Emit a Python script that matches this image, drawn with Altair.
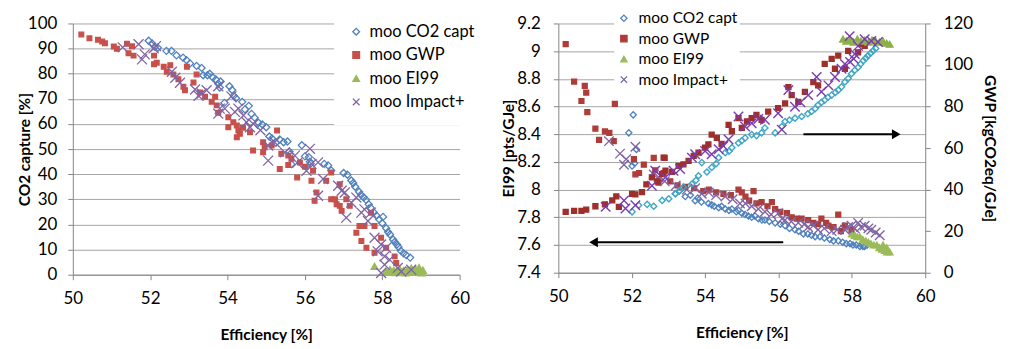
import altair as alt
import pandas as pd

SERIES = ["moo CO2 capt", "moo GWP", "moo EI99", "moo Impact+"]
X_PATH = "M-1,-1L1,1M-1,1L1,-1"
SHAPES = ["diamond", "square", "triangle-up", X_PATH]
X_TICKS = [50, 52, 54, 56, 58, 60]
CAPT_TICKS = [0, 10, 20, 30, 40, 50, 60, 70, 80, 90, 100]
EI_TICKS = [7.4, 7.6, 7.8, 8.0, 8.2, 8.4, 8.6, 8.8, 9.0, 9.2]
GWP_TICKS = [0, 20, 40, 60, 80, 100, 120]

# ---------- Left panel: (Efficiency [%], CO2 capture [%]) ----------
LEFT_CO2 = [(51.96,93.1),(52.05,92.0),(52.12,90.7),(52.20,90.3),(52.42,89.1),(52.55,89.1),(52.68,87.3),(52.85,86.4),(52.94,85.4),(53.03,84.1),(53.20,83.1),(53.33,82.3),(53.37,79.4),(53.48,79.4),(53.54,80.0),(53.62,78.5),(53.70,77.7),(53.76,76.0),(53.82,76.9),(53.80,74.5),(53.92,68.4),(54.05,75.0),(54.12,73.5),(54.16,71.2),(54.22,70.2),(54.38,68.8),(54.45,65.8),(54.55,67.2),(54.62,64.0),(54.70,62.5),(54.80,60.5),(54.90,59.8),(55.00,58.7),(55.08,55.0),(55.15,54.2),(55.25,52.5),(55.35,53.8),(55.45,52.7),(55.55,53.0),(55.60,49.0),(55.62,48.0),(55.65,44.0),(55.92,51.5),(56.00,47.1),(56.10,46.8),(56.13,45.0),(56.15,44.2),(56.50,44.1),(56.60,43.5),(56.68,41.5),(57.00,40.5),(57.10,39.8),(57.20,37.5),(57.25,36.5),(57.30,35.0),(57.40,33.0),(57.45,31.8),(57.52,30.8),(57.58,29.8),(57.65,28.0),(57.70,26.6),(57.78,24.8),(57.85,23.5),(57.92,22.0),(58.00,20.5),(58.02,23.0),(58.10,18.5),(58.15,17.0),(58.20,16.0),(58.28,14.0),(58.32,13.0),(58.38,12.0),(58.42,11.0),(58.48,9.5),(58.55,8.5),(58.62,7.8),(58.72,6.8)]
LEFT_GWP = [(50.22,95.6),(50.43,94.1),(50.65,93.5),(50.76,92.8),(50.83,92.1),(51.06,90.8),(51.14,89.9),(51.40,91.9),(51.53,90.9),(51.44,88.1),(51.57,87.2),(52.10,87.2),(52.10,83.8),(52.17,84.4),(52.35,82.8),(52.52,83.4),(52.43,80.8),(52.60,79.7),(52.73,77.8),(52.86,74.8),(52.90,73.4),(52.95,82.8),(53.20,79.7),(53.12,76.5),(53.29,72.5),(53.42,70.8),(53.59,68.8),(53.72,67.4),(53.68,70.8),(53.76,64.5),(54.02,62.7),(54.02,58.7),(54.15,60.7),(54.24,59.4),(54.28,57.4),(54.24,54.7),(54.32,56.1),(54.40,58.5),(54.58,56.7),(54.66,49.4),(54.92,52.7),(54.92,48.7),(55.28,57.4),(54.96,50.7),(55.14,51.4),(55.35,42.1),(55.39,48.1),(55.57,47.4),(55.65,46.1),(55.57,43.7),(55.80,38.7),(55.87,44.7),(56.00,43.0),(56.17,37.4),(56.21,41.4),(56.30,32.7),(56.25,29.4),(56.55,37.4),(56.68,40.7),(56.68,30.0),(56.78,30.0),(56.82,28.0),(56.90,36.0),(56.90,27.4),(56.95,25.4),(57.07,30.0),(57.16,27.4),(57.33,16.7),(57.41,19.4),(57.46,13.4),(57.54,19.4),(57.59,10.7),(57.80,8.7),(57.80,19.4),(57.71,24.7),(57.97,14.7),(58.10,10.7),(58.32,7.3),(58.36,4.7)]
LEFT_EI99 = [(57.80,3.3),(58.10,1.5),(58.15,1.0),(58.20,2.0),(58.25,1.2),(58.30,1.8),(58.35,0.9),(58.40,1.5),(58.45,2.2),(58.50,1.0),(58.55,1.6),(58.60,0.8),(58.65,2.0),(58.70,1.4),(58.75,2.6),(58.80,1.0),(58.85,2.4),(58.90,1.6),(58.95,2.8),(59.00,1.2),(59.05,1.8),(59.02,0.8)]
LEFT_IMP = [(51.29,90.5),(51.70,91.7),(51.79,85.7),(51.86,87.7),(52.09,90.1),(52.15,91.0),(52.56,80.8),(52.65,78.4),(52.77,76.4),(53.16,73.7),(53.25,71.2),(53.33,72.1),(53.46,73.4),(53.76,75.0),(53.76,64.1),(53.80,66.1),(53.93,66.1),(54.10,71.0),(54.19,64.8),(54.28,66.1),(54.41,63.4),(54.49,60.7),(54.58,58.7),(54.66,60.1),(54.85,57.5),(55.05,51.4),(55.22,52.7),(55.05,45.4),(55.48,48.7),(55.74,47.4),(55.80,44.5),(56.04,41.4),(56.13,50.1),(56.17,44.1),(56.34,44.7),(56.47,38.1),(56.34,31.4),(56.86,35.4),(56.95,33.4),(57.03,32.7),(57.07,22.7),(57.20,28.7),(57.33,30.7),(57.46,24.7),(57.54,26.0),(57.63,21.4),(57.71,24.7),(57.80,14.7),(57.88,9.3),(57.97,12.0),(58.06,7.3),(58.06,4.0),(57.97,0.7),(58.10,10.7),(58.19,6.0),(58.40,2.7),(58.49,1.3),(58.75,2.0)]

# ---------- Right panel, left axis: (Efficiency [%], EI99 [pts/GJe]) ----------
EI_CO2 = [(51.92,8.41),(52.04,8.54),(52.01,8.17),(52.13,8.29),(52.08,8.19),(53.19,7.97),(53.30,7.99),(53.46,7.95),(53.60,7.96),(53.73,7.92),(53.80,7.94),(53.90,7.91),(54.09,7.90),(54.18,7.89),(54.25,7.88),(54.37,7.87),(54.45,7.88),(54.55,7.86),(54.65,7.85),(54.73,7.86),(54.85,7.84),(54.91,7.85),(55.00,7.83),(55.09,7.82),(55.18,7.81),(55.27,7.80),(55.36,7.81),(55.45,7.79),(55.55,7.78),(55.63,7.78),(55.75,7.77),(55.91,7.76),(56.05,7.75),(56.18,7.74),(56.30,7.72),(56.45,7.71),(56.55,7.70),(56.68,7.68),(56.80,7.68),(56.90,7.67),(57.00,7.66),(57.13,7.66),(57.25,7.65),(57.40,7.64),(57.50,7.63),(57.63,7.63),(57.75,7.62),(57.85,7.61),(57.95,7.61),(58.03,7.60),(58.12,7.60),(58.22,7.59),(58.30,7.59),(58.35,7.59),(58.42,7.60)]
EI_GWP = [(50.20,9.05),(50.43,8.78),(50.72,8.75),(50.76,8.70),(50.63,8.64),(50.79,8.56),(51.01,8.44),(51.27,8.42),(51.39,8.41),(51.11,8.36),(51.51,8.35),(51.54,8.62),(52.06,8.22),(52.10,8.11),(52.20,8.12),(52.33,8.18),(52.60,8.23),(52.64,8.14),(52.73,8.05),(52.90,8.23),(52.87,8.12),(53.05,8.06),(53.25,8.03),(53.46,8.02),(53.70,8.01),(53.95,7.99),(54.10,8.00),(54.30,7.98),(54.50,7.97),(54.70,7.96),(54.91,8.00),(55.00,7.98),(55.10,7.95),(55.32,7.99),(55.20,7.92),(55.40,7.90),(55.54,7.91),(55.70,7.88),(55.82,7.91),(55.91,7.86),(56.05,7.84),(56.23,7.83),(56.36,7.80),(56.50,7.79),(56.63,7.79),(56.81,7.78),(56.95,7.76),(57.08,7.75),(57.17,7.79),(57.30,7.76),(57.36,7.74),(57.50,7.73),(57.63,7.82),(57.81,7.74),(57.99,7.71),(57.70,7.70)]
EI_EI99 = [(58.00,7.68),(58.08,7.67),(58.15,7.66),(58.22,7.66),(58.30,7.64),(58.38,7.63),(58.45,7.62),(58.52,7.61),(58.60,7.60),(58.68,7.60),(58.75,7.58),(58.82,7.57),(58.90,7.56),(58.96,7.55),(59.03,7.55),(58.85,7.60),(58.95,7.58)]
EI_IMP = [(51.38,8.35),(51.68,8.26),(51.79,8.18),(51.85,8.22),(52.10,8.31),(52.60,8.11),(52.73,8.09),(52.90,8.06),(53.20,8.03),(53.50,8.00),(53.73,8.01),(53.91,7.97),(54.10,7.98),(54.30,7.96),(54.55,7.95),(54.75,7.93),(54.95,7.90),(55.10,7.90),(55.27,7.88),(55.45,7.86),(55.63,7.84),(55.80,7.82),(55.99,7.83),(56.10,7.79),(56.18,7.78),(56.35,7.77),(56.54,7.76),(56.70,7.75),(56.81,7.73),(56.95,7.74),(57.08,7.71),(57.25,7.72),(57.45,7.70),(57.60,7.71),(57.81,7.71),(57.90,7.73),(57.99,7.74),(58.08,7.72),(58.17,7.76),(58.25,7.73),(58.35,7.74),(58.45,7.72),(58.53,7.71),(58.65,7.69),(58.76,7.67)]

# ---------- Right panel, right axis: (Efficiency [%], GWP [kgCO2eq/GJe]) ----------
G_CO2 = [(52.01,29.3),(52.19,32.5),(52.42,32.9),(52.60,32.0),(52.83,34.8),(53.01,35.6),(53.19,38.0),(53.30,39.5),(53.41,41.2),(53.64,42.7),(53.75,44.5),(53.82,46.7),(53.91,53.0),(54.05,48.5),(54.18,50.7),(54.30,52.5),(54.37,55.4),(54.55,57.8),(54.65,58.5),(54.73,60.2),(54.91,62.5),(55.00,63.5),(55.09,64.9),(55.27,66.5),(55.40,66.0),(55.54,67.3),(55.63,69.7),(55.91,67.3),(56.09,70.4),(56.18,72.8),(56.30,73.5),(56.45,74.4),(56.63,75.2),(56.80,76.5),(56.90,77.6),(57.00,79.0),(57.08,80.7),(57.17,82.0),(57.26,83.1),(57.35,84.5),(57.45,85.5),(57.55,86.8),(57.63,87.9),(57.72,89.5),(57.81,91.8),(57.90,93.5),(57.99,95.8),(58.08,97.5),(58.17,98.9),(58.24,100.5),(58.31,102.1),(58.38,103.3),(58.44,104.5),(58.51,105.7),(58.58,106.9),(58.65,108.0)]
G_GWP = [(50.20,29.3),(50.43,29.8),(50.63,29.8),(50.76,30.4),(51.01,32.0),(51.27,32.9),(51.47,34.8),(51.58,36.7),(51.65,31.7),(52.01,38.0),(52.10,37.7),(52.28,38.8),(52.40,42.5),(52.55,45.9),(52.70,44.0),(52.83,47.5),(52.87,55.4),(52.92,49.1),(53.10,48.5),(53.28,51.4),(53.41,52.2),(53.55,53.8),(53.69,56.2),(53.82,57.8),(54.00,60.2),(54.09,61.8),(54.18,66.5),(54.32,64.9),(54.45,62.0),(54.64,71.2),(54.73,68.1),(54.91,74.4),(55.00,69.7),(55.14,72.8),(55.27,74.4),(55.40,76.0),(55.54,73.6),(55.72,77.6),(55.99,79.2),(56.18,81.5),(56.27,89.4),(56.36,85.5),(56.54,82.3),(56.72,87.1),(56.95,91.8),(57.08,90.2),(57.26,100.5),(57.45,102.9),(57.63,104.5),(57.54,98.2),(57.81,98.2),(57.90,106.8),(58.17,106.1),(58.26,110.0),(58.35,109.2)]
G_EI99 = [(57.76,112.5),(57.85,111.5),(57.95,112.0),(58.05,111.0),(58.15,112.5),(58.25,111.5),(58.35,112.0),(58.45,111.0),(58.55,112.0),(58.65,111.5),(58.75,111.0),(58.85,111.5),(58.95,110.5),(59.03,110.0)]
G_IMP = [(51.29,31.7),(51.79,34.8),(51.83,30.9),(52.10,32.5),(52.55,41.9),(52.64,49.1),(52.92,45.9),(53.14,49.1),(53.32,49.9),(53.64,55.4),(53.73,57.0),(54.00,58.6),(54.18,57.0),(54.37,59.4),(54.50,61.0),(54.64,64.1),(54.91,75.2),(55.09,70.4),(55.27,72.0),(55.45,74.0),(55.63,73.6),(55.99,76.8),(56.09,68.9),(56.27,87.9),(56.45,79.9),(56.60,82.0),(56.81,85.5),(57.04,94.2),(57.17,87.1),(57.36,90.2),(57.54,94.2),(57.72,98.2),(57.81,100.5),(57.94,113.9),(58.08,105.3),(58.17,109.2),(58.35,112.4),(58.53,111.6),(58.71,111.1),(57.95,101.5),(58.05,103.0)]

# ---------- Arrow annotations (right panel, EI99 axis) ----------
ARROW_START = [56.68, 56.13]
ARROW_HEAD = [59.21, 50.96]
ARROW_LEVEL = [8.40, 7.62]

LEFT_STROKE = ["#4F81BD", "#C8504B", "#9BBB59", "#8064A2"]
LEFT_FILL = ["transparent", "#C8504B", "#9BBB59", "transparent"]
LEFT_SIZE = [50, 22, 50, 100]
EI_STROKE = ["#4F81BD", "#AE3D39", "#9BBB59", "#8064A2"]
EI_FILL = ["transparent", "#AE3D39", "#9BBB59", "transparent"]
G_STROKE = ["#3FA7C4", "#9E2F2B", "#8DB04A", "#7A3BAE"]
G_FILL = ["transparent", "#9E2F2B", "#8DB04A", "transparent"]
RIGHT_SIZE = [38, 24, 45, 90]
FONT = "Lato"


def frame(groups, sizes):
    parts = []
    for name, pairs, sz in zip(SERIES, groups, sizes):
        d = pd.DataFrame(pairs, columns=["eff", "v"])
        d["series"] = name
        d["sz"] = sz
        parts.append(d)
    return pd.concat(parts, ignore_index=True)


left_df = frame([LEFT_CO2, LEFT_GWP, LEFT_EI99, LEFT_IMP], LEFT_SIZE)
ei_df = frame([EI_CO2, EI_GWP, EI_EI99, EI_IMP], RIGHT_SIZE)
g_df = frame([G_CO2, G_GWP, G_EI99, G_IMP], RIGHT_SIZE)
arrow_df = pd.DataFrame({"eff": ARROW_START, "eff2": ARROW_HEAD, "v": ARROW_LEVEL})
head_r = pd.DataFrame({"eff": ARROW_HEAD[:1], "v": ARROW_LEVEL[:1]})
head_l = pd.DataFrame({"eff": ARROW_HEAD[1:], "v": ARROW_LEVEL[1:]})

x_enc = alt.X("eff:Q", scale=alt.Scale(domain=[50, 60], nice=False, zero=False),
              axis=alt.Axis(values=X_TICKS, title="Efficiency [%]", grid=False,
                            labelPadding=11, titlePadding=21))


def series_enc(strokes, fills, legend):
    return dict(
        shape=alt.Shape("series:N", scale=alt.Scale(domain=SERIES, range=SHAPES), legend=legend),
        stroke=alt.Stroke("series:N", scale=alt.Scale(domain=SERIES, range=strokes), legend=legend),
        fill=alt.Fill("series:N", scale=alt.Scale(domain=SERIES, range=fills), legend=legend),
        size=alt.Size("sz:Q", scale=None),
    )


leg_left = alt.Legend(title=None, orient="none", legendX=262, legendY=-14, fillColor="white",
                      padding=14, rowPadding=6.5, labelFont=FONT, labelFontSize=16.5,
                      labelColor="black", symbolSize=45, symbolStrokeWidth=1.3, labelOffset=5)
leg_right = alt.Legend(title=None, orient="none", legendX=56, legendY=-15, fillColor="white",
                       padding=2, rowPadding=3.5, labelFont=FONT, labelFontSize=15.5,
                       labelColor="black", symbolSize=40, symbolStrokeWidth=1.3, labelOffset=7)

left = alt.Chart(left_df).mark_point(opacity=1, fillOpacity=1, strokeWidth=1.3).encode(
    x=x_enc,
    y=alt.Y("v:Q", scale=alt.Scale(domain=[0, 100], nice=False),
            axis=alt.Axis(values=CAPT_TICKS, title="CO2 capture [%]", grid=True,
                          labelPadding=11, titlePadding=-5, format="d")),
    **series_enc(LEFT_STROKE, LEFT_FILL, leg_left),
).properties(width=388, height=252)

ei_y = alt.Y("v:Q", scale=alt.Scale(domain=[7.4, 9.2], nice=False, zero=False),
             axis=alt.Axis(values=EI_TICKS, title="EI99 [pts/GJe]", grid=True,
                           labelPadding=13, titlePadding=0, format="~g"))

ei_points = alt.Chart(ei_df).mark_point(opacity=1, fillOpacity=1, strokeWidth=1.35).encode(
    x=x_enc, y=ei_y, **series_enc(EI_STROKE, EI_FILL, leg_right))
arrow_lines = alt.Chart(arrow_df).mark_rule(color="black", strokeWidth=2.2).encode(
    x=x_enc, x2="eff2:Q", y=ei_y)
arrow_r = alt.Chart(head_r).mark_point(shape="triangle-right", filled=True, color="black",
                                       opacity=1, size=100).encode(x=x_enc, y=ei_y)
arrow_l = alt.Chart(head_l).mark_point(shape="triangle-left", filled=True, color="black",
                                       opacity=1, size=100).encode(x=x_enc, y=ei_y)

g_points = alt.Chart(g_df).mark_point(opacity=1, fillOpacity=1, strokeWidth=1.4).encode(
    x=x_enc,
    y=alt.Y("v:Q", scale=alt.Scale(domain=[0, 120], nice=False),
            axis=alt.Axis(values=GWP_TICKS, orient="right", title="GWP [kgCO2eq/GJe]",
                          grid=False, labelPadding=13, titlePadding=9, format="d")),
    **series_enc(G_STROKE, G_FILL, None))

right = alt.layer(
    alt.layer(ei_points, arrow_lines, arrow_r, arrow_l),
    g_points,
).resolve_scale(y="independent", shape="independent", stroke="independent",
                fill="independent").properties(width=368, height=250)

chart = alt.hconcat(left, right, spacing=99, bounds="flush").resolve_scale(
    shape="independent", stroke="independent", fill="independent"
).properties(
    padding={"left": 9, "top": 0, "right": 5, "bottom": 0}
).configure_axis(
    labelFont=FONT, labelFontSize=17, labelColor="black", labelFlush=False,
    labelOverlap=False, titleFont=FONT, titleFontSize=15.5, titleFontWeight="bold",
    titleColor="black", domainColor="#868686", tickColor="#868686", tickSize=5,
    gridColor="#A6A6A6", domainWidth=1, tickWidth=1, gridWidth=1,
).configure_view(stroke=None)

chart.save("out.html", embed_options={"renderer": "svg", "actions": False})
